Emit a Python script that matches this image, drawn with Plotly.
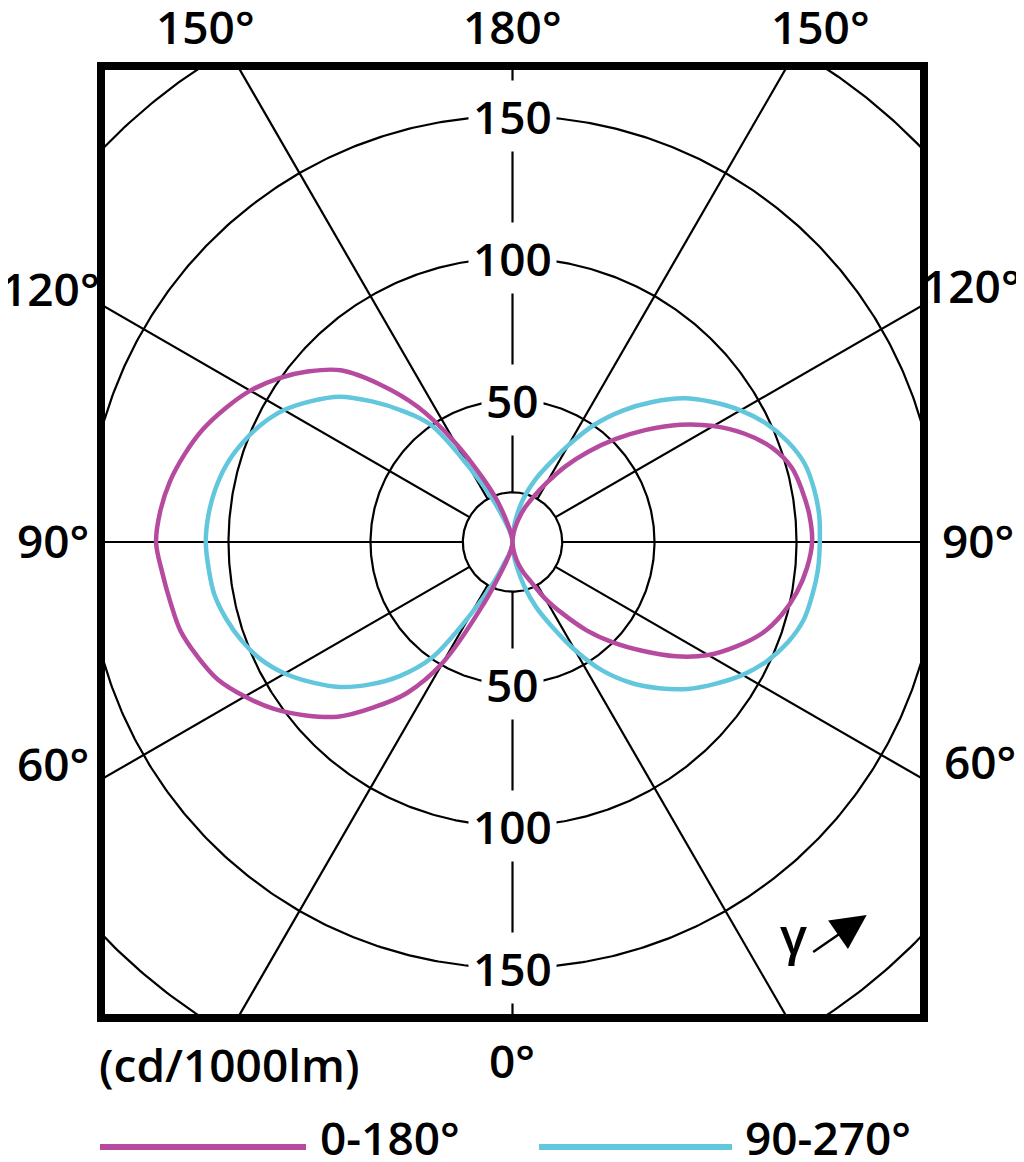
import numpy as np
import plotly.graph_objects as go

# luminous intensity (cd/1000lm) read at gamma = 0..180 step 5
gamma = list(range(0, 181, 5))
c0 = [0, 2, 4.5, 8, 11.5, 15.5, 23, 30.8, 40.6, 50, 59.6, 70.2, 79.6, 87, 93.7, 98.3, 101.7, 104.1, 105.5,
      105, 103.6, 101.7, 97.2, 90.2, 81.7, 72, 61.4, 51.2, 41.5, 32.5, 24, 17.6, 13, 8.6, 5, 2, 0]
c180 = [0, 1, 2.5, 5, 10, 24, 49, 65, 76, 87, 95, 102.5, 108.8, 114.5, 118, 121, 122.3, 123.8, 125.5,
        124.5, 122.5, 119.5, 116, 111.5, 106.6, 100.5, 93.5, 85.5, 72.3, 58, 40.5, 25, 15, 6.5, 2.5, 1, 0]
c90 = [0, 4, 9, 16.3, 24.5, 32.8, 43.9, 55.3, 64.7, 72.8, 80.5, 87.1, 93.6, 99, 103.2, 106.1, 107.2, 108, 108.2,
       108.4, 107.8, 106.5, 103.2, 98.6, 92.7, 85.9, 78.7, 69.7, 60.4, 50.5, 39.4, 30.1, 23.3, 16.8, 10.5, 5, 0]
c270 = [0, 1, 2.5, 4.5, 7, 15.4, 29.3, 50.1, 61.5, 70.9, 79.4, 86.2, 92.6, 97.8, 101.5, 104.4, 106.6, 107.4, 108,
        107.5, 106.3, 104.4, 101.4, 97.7, 92.9, 86.5, 79.6, 70, 60.3, 50.6, 30.4, 16.8, 8, 4.5, 2.5, 1, 0]

rings = [50, 100, 150, 200]
ring_labels = [50, 100, 150]
spokes = list(range(0, 360, 30))
hub = 17.5

MAGENTA = "#B64A9F"
CYAN = "#62C6DC"
FONT = "Open Sans"

# page is offset by the body margin
OFF = 8
# plot area (frame) in page pixels, and polar centre / scale
L, R, T, B = 101, 924, 66, 1018
CX, CY, K = 512.5, 542, 2.84


def pp(x, y):
    # page pixel -> paper coords
    return (x - L) / (R - L), (B - y) / (B - T)


def lobe(right, left):
    g = np.radians(gamma)
    r1 = np.array(right, dtype=float)
    r2 = np.array(left, dtype=float)[::-1]
    g2 = g[::-1]
    x = np.concatenate([r1 * np.sin(g), -r2 * np.sin(g2)])
    y = np.concatenate([-r1 * np.cos(g), -r2 * np.cos(g2)])
    return x, y


fig = go.Figure()

# rings + hub
t = np.linspace(0, 2 * np.pi, 721)
for r in rings + [hub]:
    fig.add_trace(go.Scatter(x=r * np.cos(t), y=r * np.sin(t), mode="lines",
                             line=dict(color="black", width=2.2), hoverinfo="skip", showlegend=False))

# spokes every 30 deg
for a in spokes:
    ar = np.radians(a)
    rr = np.array([hub, 260])
    fig.add_trace(go.Scatter(x=rr * np.sin(ar), y=-rr * np.cos(ar), mode="lines",
                             line=dict(color="black", width=2.2), hoverinfo="skip", showlegend=False))

# curves
x, y = lobe(c90, c270)
fig.add_trace(go.Scatter(x=x, y=y, mode="lines", name="90-270°",
                         line=dict(color=CYAN, width=4.5, shape="spline", smoothing=1.0)))
x, y = lobe(c0, c180)
fig.add_trace(go.Scatter(x=x, y=y, mode="lines", name="0-180°",
                         line=dict(color=MAGENTA, width=4.5, shape="spline", smoothing=1.0)))

ann = []
# ring labels on the vertical axis
for v in ring_labels:
    for s in (1, -1):
        ann.append(dict(x=0, y=s * v, xref="x", yref="y", text=str(v), showarrow=False,
                        bgcolor="white", borderpad=4, font=dict(size=46)))

# angle labels around the frame
labels = [
    ("150°", 205, 26, "center"), ("180°", 512, 26, "center"), ("150°", 820, 26, "center"),
    ("120°", 50, 288, "center"), ("90°", 53, 540, "center"), ("60°", 53, 763, "center"),
    ("120°", 1023, 285, "right"), ("90°", 1016, 540, "right"), ("60°", 1018, 761, "right"),
    ("0°", 512, 1060, "center"), ("(cd/1000lm)", 229, 1064, "center"),
]
for txt, px, py, anc in labels:
    xp, yp = pp(px, py)
    ann.append(dict(x=xp, y=yp, xref="paper", yref="paper", text=txt, showarrow=False,
                    xanchor=anc, yanchor="middle", font=dict(size=46)))

# legend text
for txt, px in (("0-180°", 318), ("90-270°", 743)):
    xp, yp = pp(px, 1137)
    ann.append(dict(x=xp, y=yp, xref="paper", yref="paper", text=txt, showarrow=False,
                    xanchor="left", yanchor="middle", font=dict(size=46)))

# gamma arrow
ann.append(dict(x=(793 - CX) / K, y=(CY - 935) / K, xref="x", yref="y",
                text="γ", showarrow=False, font=dict(size=50)))
ann.append(dict(x=(866.7 - CX) / K, y=(CY - 915) / K, xref="x", yref="y", text="",
                showarrow=True, ax=-55, ay=38, arrowhead=2, arrowsize=2.9, arrowwidth=2.4,
                arrowcolor="black"))

shapes = [dict(type="rect", xref="paper", yref="paper", x0=0, x1=1, y0=0, y1=1,
               line=dict(color="black", width=8), layer="above")]
for col, x0, x1 in ((MAGENTA, 100, 306), (CYAN, 539, 732)):
    a0, yp = pp(x0, 1147)
    a1, _ = pp(x1, 1147)
    shapes.append(dict(type="line", xref="paper", yref="paper", x0=a0, x1=a1, y0=yp, y1=yp,
                       line=dict(color=col, width=6)))

fig.update_layout(
    width=1024 - OFF, height=1162 - OFF,
    margin=dict(l=L - OFF, r=1024 - R, t=T - OFF, b=1162 - B),
    plot_bgcolor="white", paper_bgcolor="white",
    showlegend=False,
    font=dict(family=FONT, size=46, color="black", weight=600),
    annotations=ann, shapes=shapes,
)
fig.update_xaxes(range=[(L - CX) / K, (R - CX) / K], visible=False, fixedrange=True)
fig.update_yaxes(range=[(CY - B) / K, (CY - T) / K], visible=False, fixedrange=True)

fig.write_html("out.html")
